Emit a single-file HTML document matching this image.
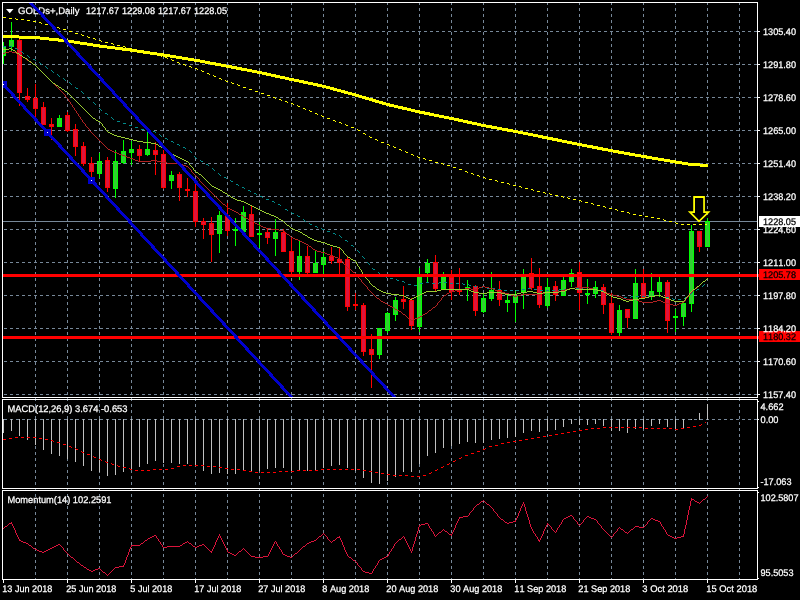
<!DOCTYPE html>
<html lang="en"><head><meta charset="utf-8"><title>GOLDs+, Daily</title>
<style>
html,body{margin:0;padding:0;background:#000;}
body{width:800px;height:600px;overflow:hidden;}
svg{display:block;}
text{font-family:"Liberation Sans",sans-serif;font-size:9.6px;fill:#fff;font-kerning:none;stroke:#fff;stroke-width:0.25px;text-rendering:geometricPrecision;}
.k{fill:#000;stroke:#000;}
.g{stroke:#778899;stroke-width:1;stroke-dasharray:3 3;fill:none;}
.b{stroke:#fff;stroke-width:1;fill:none;}
.ln{fill:none;stroke-width:1;stroke-linejoin:round;}
</style></head><body>
<svg width="800" height="600" viewBox="0 0 800 600">
<rect x="0" y="0" width="800" height="600" fill="#000"/>
<defs>
<clipPath id="cm"><rect x="3" y="3" width="754" height="394"/></clipPath>
<clipPath id="c1"><rect x="3" y="400" width="754" height="88"/></clipPath>
<clipPath id="c2"><rect x="3" y="491" width="754" height="88"/></clipPath>
</defs>
<g clip-path="url(#cm)" shape-rendering="crispEdges">
<path class="g" d="M35.5,2V398M67.5,2V398M99.5,2V398M131.5,2V398M163.5,2V398M195.5,2V398M227.5,2V398M259.5,2V398M291.5,2V398M323.5,2V398M355.5,2V398M387.5,2V398M419.5,2V398M451.5,2V398M483.5,2V398M515.5,2V398M547.5,2V398M579.5,2V398M611.5,2V398M643.5,2V398M675.5,2V398M707.5,2V398M739.5,2V398M-2,31.5H758M-2,64.5H758M-2,97.5H758M-2,130.5H758M-2,163.5H758M-2,196.5H758M-2,229.5H758M-2,262.5H758M-2,295.5H758M-2,328.5H758M-2,361.5H758M-2,394.5H758"/>
<path d="M3,221.5H757" stroke="#778899" stroke-width="1" fill="none"/>
<path d="M6,9H13.5L9.75,13.2Z" fill="#fff" shape-rendering="auto"/>
<text x="18" y="14" textLength="61.5" lengthAdjust="spacingAndGlyphs">GOLDs+,Daily</text>
<text x="86" y="14" textLength="33" lengthAdjust="spacingAndGlyphs">1217.67</text>
<text x="122" y="14" textLength="33" lengthAdjust="spacingAndGlyphs">1229.08</text>
<text x="158" y="14" textLength="33" lengthAdjust="spacingAndGlyphs">1217.67</text>
<text x="194" y="14" textLength="33" lengthAdjust="spacingAndGlyphs">1228.05</text>
<path d="M3.5,42V64M11.5,22V51M59.5,115V127M99.5,153V178M115.5,150V198M123.5,140V164M131.5,141V165M147.5,132V156M171.5,171V189M219.5,211V253M235.5,218V246M243.5,206V232M259.5,222V248M275.5,219V256M299.5,241V280M315.5,251V273M323.5,251V274M379.5,328V359M387.5,312V333M395.5,297V321M419.5,268V332M427.5,259V282M443.5,272V289M467.5,280V301M483.5,294V313M491.5,272V301M507.5,294V312M515.5,291V322M523.5,269V309M547.5,278V308M563.5,277V296M571.5,269V287M587.5,279V304M595.5,281V298M619.5,305V336M635.5,269V319M651.5,273V300M659.5,277V297M675.5,309V332M683.5,303V326M691.5,225V312M707.5,218V247" stroke="#00ff00" stroke-width="1" fill="none"/>
<path d="M19.5,38V106M27.5,88V102M35.5,84V117M43.5,102V125M51.5,118V140M67.5,112V132M75.5,124V156M83.5,142V166M91.5,157V177M107.5,157V192M139.5,145V161M155.5,142V175M163.5,150V189M179.5,172V201M187.5,178V197M195.5,184V227M203.5,218V239M211.5,217V262M227.5,203V236M251.5,205V237M267.5,229V244M283.5,229V252M291.5,237V274M307.5,246V274M331.5,247V264M339.5,248V274M347.5,256V311M355.5,293V310M363.5,303V356M371.5,334V388M403.5,286V309M411.5,298V330M435.5,255V291M451.5,270V300M459.5,268V295M475.5,285V316M499.5,281V306M531.5,258V290M539.5,268V308M555.5,281V301M579.5,262V310M603.5,284V314M611.5,293V335M627.5,309V328M643.5,269V298M667.5,280V333M699.5,231V252" stroke="#ff0000" stroke-width="1" fill="none"/>
<path d="M1,46h5v10h-5zM9,40h5v7h-5zM57,118h5v9h-5zM97,161h5v13h-5zM113,161h5v28h-5zM121,151h5v12h-5zM129,149h5v4h-5zM145,149h5v6h-5zM169,175h5v6h-5zM217,215h5v19h-5zM233,229h5v2h-5zM241,212h5v20h-5zM257,233h5v2h-5zM273,232h5v7h-5zM297,256h5v16h-5zM313,263h5v10h-5zM321,257h5v8h-5zM377,328h5v27h-5zM385,313h5v18h-5zM393,300h5v15h-5zM417,276h5v51h-5zM425,263h5v10h-5zM441,277h5v12h-5zM465,287h5v2h-5zM481,298h5v14h-5zM489,290h5v9h-5zM505,300h5v3h-5zM513,296h5v7h-5zM521,276h5v16h-5zM545,287h5v19h-5zM561,280h5v16h-5zM569,273h5v9h-5zM585,293h5v2h-5zM593,287h5v7h-5zM617,310h5v23h-5zM633,283h5v36h-5zM649,291h5v6h-5zM657,282h5v10h-5zM673,316h5v2h-5zM681,303h5v14h-5zM689,231h5v73h-5zM705,221h5v26h-5z" fill="#00ff00"/>
<path d="M17,40h5v53h-5zM25,96h5v4h-5zM33,98h5v11h-5zM41,107h5v18h-5zM49,124h5v3h-5zM65,115h5v16h-5zM73,129h5v18h-5zM81,146h5v18h-5zM89,163h5v9h-5zM105,160h5v28h-5zM137,149h5v7h-5zM153,150h5v5h-5zM161,154h5v34h-5zM177,174h5v14h-5zM185,189h5v2h-5zM193,191h5v31h-5zM201,221h5v4h-5zM209,223h5v12h-5zM225,215h5v16h-5zM249,214h5v23h-5zM265,232h5v6h-5zM281,232h5v20h-5zM289,251h5v21h-5zM305,256h5v17h-5zM329,256h5v5h-5zM337,259h5v4h-5zM345,259h5v48h-5zM353,304h5v2h-5zM361,305h5v47h-5zM369,349h5v6h-5zM401,299h5v3h-5zM409,300h5v26h-5zM433,262h5v27h-5zM449,277h5v15h-5zM457,290h5v2h-5zM473,286h5v25h-5zM497,290h5v10h-5zM529,273h5v15h-5zM537,286h5v19h-5zM553,286h5v9h-5zM577,272h5v21h-5zM601,287h5v18h-5zM609,303h5v30h-5zM625,309h5v9h-5zM641,283h5v15h-5zM665,282h5v39h-5zM697,231h5v16h-5z" fill="#ff0000"/>
<path d="M2,47h3v8h-3zM10,41h3v5h-3zM58,119h3v7h-3zM98,162h3v11h-3zM114,162h3v26h-3zM122,152h3v10h-3zM130,150h3v2h-3zM146,150h3v4h-3zM170,176h3v4h-3zM218,216h3v17h-3zM242,213h3v18h-3zM274,233h3v5h-3zM298,257h3v14h-3zM314,264h3v8h-3zM322,258h3v6h-3zM378,329h3v25h-3zM386,314h3v16h-3zM394,301h3v13h-3zM418,277h3v49h-3zM426,264h3v8h-3zM442,278h3v10h-3zM482,299h3v12h-3zM490,291h3v7h-3zM506,301h3v1h-3zM514,297h3v5h-3zM522,277h3v14h-3zM546,288h3v17h-3zM562,281h3v14h-3zM570,274h3v7h-3zM594,288h3v5h-3zM618,311h3v21h-3zM634,284h3v34h-3zM650,292h3v4h-3zM658,283h3v8h-3zM682,304h3v12h-3zM690,232h3v71h-3zM706,222h3v24h-3z" fill="#32cd32"/>
<path d="M18,41h3v51h-3zM26,97h3v2h-3zM34,99h3v9h-3zM42,108h3v16h-3zM50,125h3v1h-3zM66,116h3v14h-3zM74,130h3v16h-3zM82,147h3v16h-3zM90,164h3v7h-3zM106,161h3v26h-3zM138,150h3v5h-3zM154,151h3v3h-3zM162,155h3v32h-3zM178,175h3v12h-3zM194,192h3v29h-3zM202,222h3v2h-3zM210,224h3v10h-3zM226,216h3v14h-3zM250,215h3v21h-3zM266,233h3v4h-3zM282,233h3v18h-3zM290,252h3v19h-3zM306,257h3v15h-3zM330,257h3v3h-3zM338,260h3v2h-3zM346,260h3v46h-3zM362,306h3v45h-3zM370,350h3v4h-3zM402,300h3v1h-3zM410,301h3v24h-3zM434,263h3v25h-3zM450,278h3v13h-3zM474,287h3v23h-3zM498,291h3v8h-3zM530,274h3v13h-3zM538,287h3v17h-3zM554,287h3v7h-3zM578,273h3v19h-3zM602,288h3v16h-3zM610,304h3v28h-3zM626,310h3v7h-3zM642,284h3v13h-3zM666,283h3v37h-3zM698,232h3v14h-3z" fill="#dc143c"/>
<path d="M3,46h3v1h-3zM9,46h3v1h-3zM15,48h2v1h-2zM17,49h1v1h-1zM21,51h1v1h-1zM22,52h1v1h-1zM23,53h1v1h-1zM27,55h1v1h-1zM28,56h1v1h-1zM29,57h1v1h-1zM33,59h2v1h-2zM35,60h1v1h-1zM39,62h1v1h-1zM40,63h1v1h-1zM41,64h1v1h-1zM45,66h1v1h-1zM46,67h1v1h-1zM47,68h1v1h-1zM51,70h1v1h-1zM52,71h1v1h-1zM53,72h1v1h-1zM57,74h1v1h-1zM58,75h1v1h-1zM59,76h1v1h-1zM63,78h1v1h-1zM64,79h1v1h-1zM65,80h1v1h-1zM69,82h1v1h-1zM70,83h1v1h-1zM71,84h1v1h-1zM75,87h1v1h-1zM76,88h2v1h-2zM81,91h1v1h-1zM82,92h1v1h-1zM83,93h1v1h-1zM87,97h1v1h-1zM88,98h1v1h-1zM89,99h1v1h-1zM93,102h1v1h-1zM94,103h1v1h-1zM95,104h1v1h-1zM99,108h1v1h-1zM100,109h1v1h-1zM101,110h1v1h-1zM105,113h2v1h-2zM107,114h1v1h-1zM111,117h1v1h-1zM112,118h1v1h-1zM113,119h1v1h-1zM117,121h3v1h-3zM123,123h3v1h-3zM129,125h3v1h-3zM135,127h3v1h-3zM141,129h3v1h-3zM147,130h3v1h-3zM153,131h2v1h-2zM155,132h1v1h-1zM159,134h1v1h-1zM160,135h1v1h-1zM161,136h1v1h-1zM165,138h2v1h-2zM167,139h1v1h-1zM171,141h2v1h-2zM173,142h1v1h-1zM177,144h2v1h-2zM179,145h1v1h-1zM183,147h2v1h-2zM185,148h1v1h-1zM189,150h1v1h-1zM190,151h1v1h-1zM191,152h1v1h-1zM194,156h1v1h-1zM195,157h1v1h-1zM196,158h1v1h-1zM200,160h1v1h-1zM201,161h2v1h-2zM206,164h2v1h-2zM208,165h1v1h-1zM212,168h1v1h-1zM213,169h1v1h-1zM214,170h1v1h-1zM218,173h1v1h-1zM219,174h1v1h-1zM220,175h1v1h-1zM224,177h2v1h-2zM226,178h1v1h-1zM230,180h1v1h-1zM231,181h2v1h-2zM236,184h2v1h-2zM238,185h1v1h-1zM242,187h2v1h-2zM244,188h1v1h-1zM248,190h2v1h-2zM250,191h1v1h-1zM254,193h2v1h-2zM256,194h1v1h-1zM260,196h2v1h-2zM262,197h1v1h-1zM266,199h3v1h-3zM272,201h2v1h-2zM274,202h1v1h-1zM278,204h2v1h-2zM280,205h1v1h-1zM285,209h2v1h-2zM287,210h1v1h-1zM291,212h1v1h-1zM292,213h2v1h-2zM297,215h1v1h-1zM298,216h2v1h-2zM303,219h1v1h-1zM304,220h1v1h-1zM305,221h1v1h-1zM309,223h1v1h-1zM310,224h2v1h-2zM315,226h2v1h-2zM317,227h1v1h-1zM321,228h1v1h-1zM322,229h2v1h-2zM327,231h3v1h-3zM333,233h2v1h-2zM335,234h1v1h-1zM339,235h1v1h-1zM340,236h1v1h-1zM341,237h1v1h-1zM345,240h2v1h-2zM347,241h1v1h-1zM351,245h2v1h-2zM353,246h1v1h-1zM357,250h1v1h-1zM358,251h1v1h-1zM359,252h1v1h-1zM362,256h1v1h-1zM363,257h1v1h-1zM364,258h1v1h-1zM367,262h1v1h-1zM368,263h1v1h-1zM369,264h1v1h-1zM372,268h1v1h-1zM373,269h2v1h-2zM378,272h1v1h-1zM379,273h1v1h-1zM380,274h1v1h-1zM384,276h2v1h-2zM386,277h1v1h-1zM390,278h3v1h-3zM396,279h1v1h-1zM397,280h2v1h-2zM402,281h2v1h-2zM404,282h1v1h-1zM426,282h3v1h-3zM439,282h2v1h-2zM444,282h3v1h-3zM420,283h3v1h-3zM432,283h3v1h-3zM438,283h1v1h-1zM450,283h3v1h-3zM456,283h3v1h-3zM462,283h1v1h-1zM408,284h3v1h-3zM463,284h2v1h-2zM468,284h1v1h-1zM704,284h1v1h-1zM414,285h3v1h-3zM469,285h2v1h-2zM703,285h1v1h-1zM474,286h3v1h-3zM702,286h1v1h-1zM480,287h3v1h-3zM486,287h1v1h-1zM487,288h2v1h-2zM492,288h3v1h-3zM528,288h3v1h-3zM570,288h3v1h-3zM576,288h3v1h-3zM582,288h1v1h-1zM498,289h3v1h-3zM522,289h3v1h-3zM534,289h3v1h-3zM559,289h2v1h-2zM564,289h3v1h-3zM583,289h2v1h-2zM588,289h3v1h-3zM594,289h3v1h-3zM697,289h2v1h-2zM504,290h3v1h-3zM510,290h3v1h-3zM516,290h3v1h-3zM540,290h3v1h-3zM546,290h3v1h-3zM552,290h3v1h-3zM558,290h1v1h-1zM600,290h3v1h-3zM696,290h1v1h-1zM606,292h1v1h-1zM692,292h1v1h-1zM607,293h2v1h-2zM691,293h1v1h-1zM690,294h1v1h-1zM612,295h3v1h-3zM655,295h2v1h-2zM660,295h1v1h-1zM618,296h3v1h-3zM631,296h2v1h-2zM636,296h3v1h-3zM642,296h3v1h-3zM648,296h3v1h-3zM654,296h1v1h-1zM661,296h2v1h-2zM624,297h3v1h-3zM630,297h1v1h-1zM666,297h3v1h-3zM685,297h2v1h-2zM672,298h1v1h-1zM684,298h1v1h-1zM673,299h2v1h-2zM678,299h3v1h-3z" fill="#008b8b"/>
<path d="M9,51h3v1h-3zM5,52h4v1h-4zM12,52h4v1h-4zM3,53h2v1h-2zM16,53h2v1h-2zM18,54h2v1h-2zM20,55h2v1h-2zM22,56h1v1h-1zM23,57h2v1h-2zM25,58h1v1h-1zM26,59h1v1h-1zM27,60h2v1h-2zM29,61h1v1h-1zM30,62h2v1h-2zM32,63h1v1h-1zM33,64h2v1h-2zM35,65h1v1h-1zM36,66h1v1h-1zM37,67h1v1h-1zM38,68h1v1h-1zM39,69h1v1h-1zM40,70h1v1h-1zM41,71h1v1h-1zM42,72h1v1h-1zM43,73h1v1h-1zM44,74h1v1h-1zM45,75h1v1h-1zM46,76h1v1h-1zM47,77h1v1h-1zM48,78h1v1h-1zM49,79h1v1h-1zM50,80h1v1h-1zM51,81h1v1h-1zM52,82h1v1h-1zM53,83h1v1h-1zM54,84h1v1h-1zM55,85h1v1h-1zM56,86h1v1h-1zM57,87h1v1h-1zM58,88h1v1h-1zM59,89h1v1h-1zM60,90h1v1h-1zM61,91h1v1h-1zM62,92h1v1h-1zM63,93h1v1h-1zM64,94h1v1h-1zM65,95h1v1h-1zM65,96h1v1h-1zM66,97h1v1h-1zM67,98h1v1h-1zM68,99h1v1h-1zM68,100h1v1h-1zM69,101h1v1h-1zM70,102h1v1h-1zM70,103h1v1h-1zM71,104h1v1h-1zM72,105h1v1h-1zM72,106h1v1h-1zM73,107h1v1h-1zM74,108h1v1h-1zM74,109h1v1h-1zM75,110h1v1h-1zM76,111h1v1h-1zM76,112h1v1h-1zM77,113h1v1h-1zM78,114h1v1h-1zM78,115h1v1h-1zM79,116h1v1h-1zM80,117h1v1h-1zM80,118h1v1h-1zM81,119h1v1h-1zM82,120h1v1h-1zM82,121h1v1h-1zM83,122h1v1h-1zM84,123h1v1h-1zM85,124h1v1h-1zM85,125h1v1h-1zM86,126h1v1h-1zM87,127h1v1h-1zM88,128h1v1h-1zM89,129h1v1h-1zM89,130h1v1h-1zM90,131h1v1h-1zM91,132h1v1h-1zM92,133h1v1h-1zM93,134h1v1h-1zM94,135h1v1h-1zM95,136h1v1h-1zM96,137h1v1h-1zM97,138h1v1h-1zM98,139h1v1h-1zM99,140h1v1h-1zM100,141h1v1h-1zM101,142h1v1h-1zM102,143h1v1h-1zM103,144h1v1h-1zM104,145h1v1h-1zM105,146h1v1h-1zM106,147h1v1h-1zM107,148h1v1h-1zM108,149h2v1h-2zM110,150h2v1h-2zM112,151h2v1h-2zM114,152h3v1h-3zM117,153h2v1h-2zM119,154h3v1h-3zM122,155h3v1h-3zM125,156h2v1h-2zM127,157h3v1h-3zM130,158h3v1h-3zM133,159h2v1h-2zM135,160h3v1h-3zM151,160h6v1h-6zM138,161h13v1h-13zM157,161h4v1h-4zM161,162h6v1h-6zM167,163h14v1h-14zM181,164h2v1h-2zM183,165h3v1h-3zM186,166h2v1h-2zM188,167h1v1h-1zM189,168h1v1h-1zM190,169h1v1h-1zM191,170h1v1h-1zM191,171h1v1h-1zM192,172h1v1h-1zM193,173h1v1h-1zM194,174h1v1h-1zM195,175h1v1h-1zM196,176h1v1h-1zM197,177h1v1h-1zM198,178h1v1h-1zM199,179h1v1h-1zM199,180h1v1h-1zM200,181h1v1h-1zM201,182h1v1h-1zM202,183h1v1h-1zM203,184h1v1h-1zM204,185h1v1h-1zM205,186h1v1h-1zM206,187h1v1h-1zM207,188h1v1h-1zM208,189h1v1h-1zM209,190h1v1h-1zM210,191h1v1h-1zM211,192h1v1h-1zM212,193h1v1h-1zM213,194h1v1h-1zM214,195h1v1h-1zM215,196h1v1h-1zM216,197h1v1h-1zM217,198h1v1h-1zM218,199h1v1h-1zM219,200h1v1h-1zM220,201h1v1h-1zM221,202h1v1h-1zM222,203h1v1h-1zM223,204h2v1h-2zM225,205h1v1h-1zM226,206h1v1h-1zM227,207h1v1h-1zM228,208h2v1h-2zM230,209h2v1h-2zM232,210h2v1h-2zM234,211h2v1h-2zM236,212h2v1h-2zM238,213h1v1h-1zM239,214h2v1h-2zM241,215h2v1h-2zM243,216h1v1h-1zM244,217h2v1h-2zM246,218h2v1h-2zM248,219h2v1h-2zM250,220h2v1h-2zM252,221h2v1h-2zM254,222h1v1h-1zM255,223h2v1h-2zM257,224h2v1h-2zM259,225h2v1h-2zM261,226h2v1h-2zM263,227h3v1h-3zM266,228h5v1h-5zM271,229h8v1h-8zM279,230h5v1h-5zM284,231h1v1h-1zM285,232h1v1h-1zM286,233h1v1h-1zM287,234h2v1h-2zM289,235h1v1h-1zM290,236h1v1h-1zM291,237h2v1h-2zM293,238h2v1h-2zM295,239h3v1h-3zM298,240h2v1h-2zM300,241h2v1h-2zM302,242h2v1h-2zM304,243h2v1h-2zM306,244h2v1h-2zM308,245h1v1h-1zM309,246h2v1h-2zM311,247h1v1h-1zM312,248h1v1h-1zM313,249h2v1h-2zM315,250h2v1h-2zM317,251h4v1h-4zM321,252h4v1h-4zM325,253h2v1h-2zM327,254h3v1h-3zM330,255h3v1h-3zM333,256h2v1h-2zM335,257h3v1h-3zM338,258h2v1h-2zM340,259h1v1h-1zM341,260h1v1h-1zM342,261h1v1h-1zM343,262h1v1h-1zM343,263h1v1h-1zM344,264h1v1h-1zM345,265h1v1h-1zM346,266h1v1h-1zM347,267h1v1h-1zM348,268h1v1h-1zM349,269h2v1h-2zM351,270h1v1h-1zM352,271h1v1h-1zM353,272h2v1h-2zM355,273h1v1h-1zM356,274h1v1h-1zM357,275h1v1h-1zM357,276h1v1h-1zM358,277h1v1h-1zM359,278h1v1h-1zM707,278h1v1h-1zM360,279h1v1h-1zM706,279h1v1h-1zM361,280h1v1h-1zM705,280h1v1h-1zM361,281h1v1h-1zM703,281h2v1h-2zM362,282h1v1h-1zM702,282h1v1h-1zM363,283h1v1h-1zM701,283h1v1h-1zM364,284h1v1h-1zM700,284h1v1h-1zM365,285h1v1h-1zM699,285h1v1h-1zM366,286h1v1h-1zM482,286h3v1h-3zM698,286h1v1h-1zM367,287h1v1h-1zM479,287h3v1h-3zM485,287h4v1h-4zM575,287h14v1h-14zM697,287h1v1h-1zM367,288h1v1h-1zM465,288h6v1h-6zM477,288h2v1h-2zM489,288h4v1h-4zM569,288h6v1h-6zM589,288h4v1h-4zM695,288h2v1h-2zM368,289h1v1h-1zM461,289h4v1h-4zM471,289h6v1h-6zM493,289h2v1h-2zM565,289h4v1h-4zM593,289h4v1h-4zM694,289h1v1h-1zM369,290h1v1h-1zM455,290h6v1h-6zM495,290h3v1h-3zM561,290h4v1h-4zM597,290h4v1h-4zM693,290h1v1h-1zM370,291h1v1h-1zM451,291h4v1h-4zM498,291h3v1h-3zM557,291h4v1h-4zM601,291h4v1h-4zM692,291h1v1h-1zM371,292h1v1h-1zM449,292h2v1h-2zM501,292h4v1h-4zM545,292h12v1h-12zM605,292h2v1h-2zM691,292h1v1h-1zM372,293h1v1h-1zM447,293h2v1h-2zM505,293h4v1h-4zM541,293h4v1h-4zM607,293h3v1h-3zM690,293h1v1h-1zM373,294h1v1h-1zM446,294h1v1h-1zM509,294h2v1h-2zM521,294h20v1h-20zM610,294h3v1h-3zM689,294h1v1h-1zM374,295h1v1h-1zM444,295h2v1h-2zM511,295h3v1h-3zM517,295h4v1h-4zM613,295h4v1h-4zM689,295h1v1h-1zM375,296h1v1h-1zM443,296h1v1h-1zM514,296h3v1h-3zM617,296h4v1h-4zM688,296h1v1h-1zM376,297h1v1h-1zM442,297h1v1h-1zM621,297h2v1h-2zM687,297h1v1h-1zM377,298h2v1h-2zM441,298h1v1h-1zM623,298h3v1h-3zM686,298h1v1h-1zM379,299h1v1h-1zM441,299h1v1h-1zM626,299h11v1h-11zM685,299h1v1h-1zM380,300h1v1h-1zM440,300h1v1h-1zM637,300h2v1h-2zM657,300h4v1h-4zM685,300h1v1h-1zM381,301h2v1h-2zM439,301h1v1h-1zM639,301h3v1h-3zM653,301h4v1h-4zM661,301h2v1h-2zM684,301h1v1h-1zM383,302h2v1h-2zM438,302h1v1h-1zM642,302h11v1h-11zM663,302h3v1h-3zM682,302h2v1h-2zM385,303h2v1h-2zM437,303h1v1h-1zM666,303h3v1h-3zM679,303h3v1h-3zM387,304h1v1h-1zM437,304h1v1h-1zM669,304h4v1h-4zM677,304h2v1h-2zM388,305h2v1h-2zM436,305h1v1h-1zM673,305h4v1h-4zM390,306h2v1h-2zM435,306h1v1h-1zM392,307h2v1h-2zM433,307h2v1h-2zM394,308h1v1h-1zM432,308h1v1h-1zM395,309h2v1h-2zM431,309h1v1h-1zM397,310h2v1h-2zM429,310h2v1h-2zM399,311h2v1h-2zM428,311h1v1h-1zM401,312h1v1h-1zM427,312h1v1h-1zM402,313h1v1h-1zM425,313h2v1h-2zM403,314h2v1h-2zM423,314h2v1h-2zM405,315h1v1h-1zM422,315h1v1h-1zM406,316h1v1h-1zM420,316h2v1h-2zM407,317h1v1h-1zM418,317h2v1h-2zM408,318h2v1h-2zM415,318h3v1h-3zM410,319h1v1h-1zM413,319h2v1h-2zM411,320h2v1h-2z" fill="#b22222"/>
<path d="M9,48h2v1h-2zM3,49h6v1h-6zM11,49h2v1h-2zM13,50h2v1h-2zM15,51h1v1h-1zM16,52h1v1h-1zM17,53h2v1h-2zM19,54h1v1h-1zM20,55h2v1h-2zM22,56h1v1h-1zM23,57h2v1h-2zM25,58h2v1h-2zM27,59h1v1h-1zM28,60h1v1h-1zM29,61h2v1h-2zM31,62h1v1h-1zM32,63h1v1h-1zM33,64h2v1h-2zM35,65h1v1h-1zM36,66h1v1h-1zM37,67h1v1h-1zM38,68h1v1h-1zM39,69h1v1h-1zM40,70h1v1h-1zM41,71h1v1h-1zM42,72h1v1h-1zM43,73h1v1h-1zM44,74h1v1h-1zM45,75h1v1h-1zM46,76h1v1h-1zM47,77h1v1h-1zM48,78h1v1h-1zM49,79h1v1h-1zM50,80h1v1h-1zM51,81h1v1h-1zM52,82h1v1h-1zM53,83h2v1h-2zM55,84h1v1h-1zM56,85h2v1h-2zM58,86h1v1h-1zM59,87h2v1h-2zM61,88h1v1h-1zM62,89h2v1h-2zM64,90h1v1h-1zM65,91h2v1h-2zM67,92h1v1h-1zM68,93h1v1h-1zM69,94h1v1h-1zM70,95h1v1h-1zM71,96h1v1h-1zM72,97h1v1h-1zM73,98h1v1h-1zM74,99h1v1h-1zM75,100h1v1h-1zM76,101h1v1h-1zM77,102h1v1h-1zM78,103h1v1h-1zM79,104h1v1h-1zM80,105h1v1h-1zM81,106h1v1h-1zM82,107h1v1h-1zM83,108h1v1h-1zM84,109h1v1h-1zM85,110h1v1h-1zM86,111h1v1h-1zM87,112h1v1h-1zM88,113h1v1h-1zM89,114h1v1h-1zM90,115h1v1h-1zM91,116h1v1h-1zM92,117h1v1h-1zM93,118h2v1h-2zM95,119h1v1h-1zM96,120h2v1h-2zM98,121h2v1h-2zM100,122h1v1h-1zM101,123h1v1h-1zM102,124h1v1h-1zM102,125h1v1h-1zM103,126h1v1h-1zM104,127h1v1h-1zM105,128h1v1h-1zM105,129h1v1h-1zM106,130h1v1h-1zM107,131h1v1h-1zM108,132h2v1h-2zM110,133h2v1h-2zM112,134h2v1h-2zM114,135h3v1h-3zM117,136h4v1h-4zM121,137h4v1h-4zM125,138h4v1h-4zM129,139h4v1h-4zM133,140h4v1h-4zM137,141h6v1h-6zM143,142h8v1h-8zM151,143h5v1h-5zM156,144h2v1h-2zM158,145h1v1h-1zM159,146h2v1h-2zM161,147h2v1h-2zM163,148h1v1h-1zM164,149h2v1h-2zM166,150h1v1h-1zM167,151h2v1h-2zM169,152h2v1h-2zM171,153h1v1h-1zM172,154h2v1h-2zM174,155h2v1h-2zM176,156h2v1h-2zM178,157h2v1h-2zM180,158h2v1h-2zM182,159h2v1h-2zM184,160h2v1h-2zM186,161h2v1h-2zM188,162h1v1h-1zM189,163h1v1h-1zM189,164h1v1h-1zM190,165h1v1h-1zM191,166h1v1h-1zM192,167h1v1h-1zM193,168h1v1h-1zM193,169h1v1h-1zM194,170h1v1h-1zM195,171h1v1h-1zM196,172h2v1h-2zM198,173h1v1h-1zM199,174h2v1h-2zM201,175h1v1h-1zM202,176h1v1h-1zM203,177h1v1h-1zM204,178h1v1h-1zM205,179h1v1h-1zM206,180h1v1h-1zM207,181h1v1h-1zM208,182h1v1h-1zM209,183h1v1h-1zM210,184h1v1h-1zM211,185h1v1h-1zM212,186h2v1h-2zM214,187h2v1h-2zM216,188h2v1h-2zM218,189h2v1h-2zM220,190h2v1h-2zM222,191h1v1h-1zM223,192h2v1h-2zM225,193h2v1h-2zM227,194h1v1h-1zM228,195h2v1h-2zM230,196h1v1h-1zM231,197h2v1h-2zM233,198h2v1h-2zM235,199h2v1h-2zM237,200h4v1h-4zM241,201h3v1h-3zM244,202h2v1h-2zM246,203h2v1h-2zM248,204h2v1h-2zM250,205h2v1h-2zM252,206h2v1h-2zM254,207h2v1h-2zM256,208h2v1h-2zM258,209h2v1h-2zM260,210h2v1h-2zM262,211h2v1h-2zM264,212h2v1h-2zM266,213h3v1h-3zM269,214h2v1h-2zM271,215h3v1h-3zM274,216h2v1h-2zM276,217h2v1h-2zM278,218h1v1h-1zM279,219h2v1h-2zM281,220h2v1h-2zM283,221h1v1h-1zM284,222h1v1h-1zM285,223h1v1h-1zM286,224h1v1h-1zM287,225h2v1h-2zM289,226h1v1h-1zM290,227h1v1h-1zM291,228h2v1h-2zM293,229h2v1h-2zM295,230h3v1h-3zM298,231h2v1h-2zM300,232h2v1h-2zM302,233h1v1h-1zM303,234h2v1h-2zM305,235h2v1h-2zM307,236h1v1h-1zM308,237h2v1h-2zM310,238h2v1h-2zM312,239h2v1h-2zM314,240h3v1h-3zM317,241h4v1h-4zM321,242h4v1h-4zM325,243h2v1h-2zM327,244h3v1h-3zM330,245h3v1h-3zM333,246h4v1h-4zM337,247h3v1h-3zM340,248h1v1h-1zM341,249h1v1h-1zM342,250h1v1h-1zM343,251h1v1h-1zM343,252h1v1h-1zM344,253h1v1h-1zM345,254h1v1h-1zM346,255h1v1h-1zM347,256h1v1h-1zM348,257h2v1h-2zM350,258h1v1h-1zM351,259h2v1h-2zM353,260h2v1h-2zM355,261h1v1h-1zM356,262h1v1h-1zM356,263h1v1h-1zM357,264h1v1h-1zM357,265h1v1h-1zM358,266h1v1h-1zM359,267h1v1h-1zM359,268h1v1h-1zM360,269h1v1h-1zM361,270h1v1h-1zM361,271h1v1h-1zM362,272h1v1h-1zM362,273h1v1h-1zM363,274h1v1h-1zM364,275h1v1h-1zM365,276h1v1h-1zM365,277h1v1h-1zM366,278h1v1h-1zM707,278h1v1h-1zM367,279h1v1h-1zM706,279h1v1h-1zM368,280h1v1h-1zM705,280h1v1h-1zM369,281h1v1h-1zM703,281h2v1h-2zM369,282h1v1h-1zM702,282h1v1h-1zM370,283h1v1h-1zM701,283h1v1h-1zM371,284h1v1h-1zM700,284h1v1h-1zM372,285h1v1h-1zM699,285h1v1h-1zM373,286h2v1h-2zM697,286h2v1h-2zM375,287h1v1h-1zM696,287h1v1h-1zM376,288h1v1h-1zM570,288h5v1h-5zM695,288h1v1h-1zM377,289h2v1h-2zM441,289h28v1h-28zM567,289h3v1h-3zM575,289h22v1h-22zM693,289h2v1h-2zM379,290h2v1h-2zM437,290h4v1h-4zM469,290h2v1h-2zM565,290h2v1h-2zM597,290h4v1h-4zM692,290h1v1h-1zM381,291h2v1h-2zM426,291h11v1h-11zM471,291h3v1h-3zM527,291h6v1h-6zM559,291h6v1h-6zM601,291h3v1h-3zM691,291h1v1h-1zM383,292h3v1h-3zM424,292h2v1h-2zM474,292h5v1h-5zM487,292h14v1h-14zM521,292h6v1h-6zM533,292h4v1h-4zM543,292h16v1h-16zM604,292h2v1h-2zM690,292h1v1h-1zM386,293h5v1h-5zM422,293h2v1h-2zM479,293h8v1h-8zM501,293h4v1h-4zM517,293h4v1h-4zM537,293h6v1h-6zM606,293h1v1h-1zM689,293h1v1h-1zM391,294h8v1h-8zM420,294h2v1h-2zM505,294h12v1h-12zM607,294h2v1h-2zM689,294h1v1h-1zM399,295h5v1h-5zM418,295h2v1h-2zM609,295h2v1h-2zM655,295h6v1h-6zM688,295h1v1h-1zM404,296h2v1h-2zM416,296h2v1h-2zM611,296h2v1h-2zM649,296h6v1h-6zM661,296h2v1h-2zM687,296h1v1h-1zM406,297h2v1h-2zM414,297h2v1h-2zM613,297h4v1h-4zM645,297h4v1h-4zM663,297h3v1h-3zM686,297h1v1h-1zM408,298h2v1h-2zM412,298h2v1h-2zM617,298h4v1h-4zM639,298h6v1h-6zM666,298h3v1h-3zM685,298h1v1h-1zM410,299h2v1h-2zM621,299h2v1h-2zM633,299h6v1h-6zM669,299h2v1h-2zM685,299h1v1h-1zM623,300h3v1h-3zM629,300h4v1h-4zM671,300h3v1h-3zM684,300h1v1h-1zM626,301h3v1h-3zM674,301h10v1h-10z" fill="#9acd32"/>
<path d="M3,17h3v1h-3zM9,18h3v1h-3zM15,18h1v1h-1zM16,19h2v1h-2zM21,19h3v1h-3zM27,20h3v1h-3zM33,21h3v1h-3zM39,22h2v1h-2zM41,23h1v1h-1zM45,24h3v1h-3zM51,26h3v1h-3zM57,27h2v1h-2zM59,28h1v1h-1zM63,29h3v1h-3zM69,31h3v1h-3zM75,33h3v1h-3zM81,34h1v1h-1zM82,35h2v1h-2zM87,36h1v1h-1zM88,37h2v1h-2zM93,38h2v1h-2zM95,39h1v1h-1zM99,40h2v1h-2zM101,41h1v1h-1zM105,42h3v1h-3zM111,43h2v1h-2zM113,44h1v1h-1zM117,45h3v1h-3zM123,46h2v1h-2zM125,47h1v1h-1zM129,48h3v1h-3zM135,49h2v1h-2zM137,50h1v1h-1zM141,51h3v1h-3zM147,52h2v1h-2zM149,53h1v1h-1zM153,54h3v1h-3zM159,55h2v1h-2zM161,56h1v1h-1zM165,57h2v1h-2zM167,58h1v1h-1zM171,59h1v1h-1zM172,60h2v1h-2zM177,62h2v1h-2zM179,63h1v1h-1zM183,64h2v1h-2zM185,65h1v1h-1zM189,66h2v1h-2zM191,67h1v1h-1zM195,68h2v1h-2zM197,69h1v1h-1zM201,70h1v1h-1zM202,71h2v1h-2zM207,73h2v1h-2zM209,74h1v1h-1zM213,75h1v1h-1zM214,76h2v1h-2zM219,78h2v1h-2zM221,79h1v1h-1zM225,80h1v1h-1zM226,81h2v1h-2zM231,82h1v1h-1zM232,83h2v1h-2zM237,84h1v1h-1zM238,85h2v1h-2zM243,87h3v1h-3zM249,89h3v1h-3zM255,91h3v1h-3zM261,93h3v1h-3zM267,95h3v1h-3zM273,97h2v1h-2zM275,98h1v1h-1zM279,99h2v1h-2zM281,100h1v1h-1zM285,101h2v1h-2zM287,102h1v1h-1zM291,103h2v1h-2zM293,104h1v1h-1zM297,105h1v1h-1zM298,106h2v1h-2zM303,108h2v1h-2zM305,109h1v1h-1zM309,110h1v1h-1zM310,111h2v1h-2zM315,113h2v1h-2zM317,114h1v1h-1zM321,115h1v1h-1zM322,116h2v1h-2zM327,118h3v1h-3zM333,120h2v1h-2zM335,121h1v1h-1zM339,122h2v1h-2zM341,123h1v1h-1zM345,124h1v1h-1zM346,125h2v1h-2zM351,127h3v1h-3zM357,129h1v1h-1zM358,130h2v1h-2zM363,133h2v1h-2zM365,134h1v1h-1zM369,136h1v1h-1zM370,137h2v1h-2zM375,139h2v1h-2zM377,140h1v1h-1zM381,142h3v1h-3zM387,144h2v1h-2zM389,145h1v1h-1zM393,146h1v1h-1zM394,147h2v1h-2zM399,149h2v1h-2zM401,150h1v1h-1zM405,151h1v1h-1zM406,152h2v1h-2zM411,154h2v1h-2zM413,155h1v1h-1zM417,156h1v1h-1zM418,157h2v1h-2zM423,158h2v1h-2zM425,159h1v1h-1zM429,160h3v1h-3zM435,162h3v1h-3zM441,163h2v1h-2zM443,164h1v1h-1zM447,165h3v1h-3zM453,167h3v1h-3zM459,169h3v1h-3zM465,171h2v1h-2zM467,172h1v1h-1zM471,173h2v1h-2zM473,174h1v1h-1zM477,175h2v1h-2zM479,176h1v1h-1zM483,177h2v1h-2zM485,178h1v1h-1zM489,179h3v1h-3zM495,180h2v1h-2zM497,181h1v1h-1zM501,182h3v1h-3zM507,183h2v1h-2zM509,184h1v1h-1zM513,185h3v1h-3zM519,186h2v1h-2zM521,187h1v1h-1zM525,188h3v1h-3zM531,189h2v1h-2zM533,190h1v1h-1zM537,191h3v1h-3zM543,192h2v1h-2zM545,193h1v1h-1zM549,193h1v1h-1zM550,194h2v1h-2zM555,195h3v1h-3zM561,196h2v1h-2zM563,197h1v1h-1zM567,197h1v1h-1zM568,198h2v1h-2zM573,199h3v1h-3zM579,200h2v1h-2zM581,201h1v1h-1zM585,202h3v1h-3zM591,203h2v1h-2zM593,204h1v1h-1zM597,205h3v1h-3zM603,206h2v1h-2zM605,207h1v1h-1zM609,208h3v1h-3zM615,209h2v1h-2zM617,210h1v1h-1zM621,211h3v1h-3zM627,212h2v1h-2zM629,213h1v1h-1zM633,214h3v1h-3zM639,215h3v1h-3zM645,216h3v1h-3zM651,217h3v1h-3zM657,218h3v1h-3zM663,219h1v1h-1zM664,220h2v1h-2zM669,221h3v1h-3zM675,222h1v1h-1zM676,223h2v1h-2zM681,224h3v1h-3zM687,224h3v1h-3zM693,224h3v1h-3zM699,224h3v1h-3zM705,224h2v1h-2z" fill="#ffff00"/>
<polyline points="3,36.5 35.5,37.5 67.5,41 99.5,46 131.5,50.2 163.5,55 195.5,60.2 227.5,66.25 259.5,72.5 291.5,79.5 323.5,86.25 355.5,95 387.5,104.5 419.5,112 451.5,118.5 483.5,125.5 515.5,131.5 547.5,138 579.5,144.5 611.5,150.75 643.5,156.5 675.5,162 691.5,164.5 708,165.5" stroke="#ffff00" style="stroke-width:3;fill:none;stroke-linejoin:round"/>
<rect x="3" y="274" width="755" height="3" fill="#ff0000"/>
<rect x="3" y="336" width="755" height="3" fill="#ff0000"/>
<path d="M-10,70.06L300,406.50M20,-8.92L410,414.08" stroke="#0000cd" stroke-width="2.94" fill="none"/>
<rect x="0" y="81" width="7" height="7" fill="#0000cd"/><rect x="3" y="84" width="1" height="1" fill="#fff"/>
<rect x="44" y="129" width="7" height="7" fill="#0000cd"/><rect x="47" y="132" width="1" height="1" fill="#fff"/>
<rect x="88" y="177" width="7" height="7" fill="#0000cd"/><rect x="91" y="180" width="1" height="1" fill="#fff"/>
</g>
<path fill-rule="evenodd" fill="#ffff00" d="M693.2,196.1H704.9V211.2H710.6L699,222.6L687.8,211.2H693.2ZM695,197.9V213H692L699,220.2L706.4,213H703.2V197.9Z"/>
<g clip-path="url(#c1)" shape-rendering="crispEdges">
<path class="g" d="M35.5,398V490M67.5,398V490M99.5,398V490M131.5,398V490M163.5,398V490M195.5,398V490M227.5,398V490M259.5,398V490M291.5,398V490M323.5,398V490M355.5,398V490M387.5,398V490M419.5,398V490M451.5,398V490M483.5,398V490M515.5,398V490M547.5,398V490M579.5,398V490M611.5,398V490M643.5,398V490M675.5,398V490M707.5,398V490M739.5,398V490M-2,419.5H758"/>
<text x="7.5" y="412" textLength="120" lengthAdjust="spacingAndGlyphs">MACD(12,26,9) 3.674 -0.653</text>
<path d="M3.5,419V433M11.5,419V431M19.5,419V436M27.5,419V440M35.5,419V445M43.5,419V450M51.5,419V454M59.5,419V456M67.5,419V459M75.5,419V462M83.5,419V466M91.5,419V471M99.5,419V472M107.5,419V476M115.5,419V475M123.5,419V472M131.5,419V470M139.5,419V467M147.5,419V464M155.5,419V461M163.5,419V463M171.5,419V463M179.5,419V464M187.5,419V464M195.5,419V466M203.5,419V471M211.5,419V474M219.5,419V473M227.5,419V474M235.5,419V474M243.5,419V470M251.5,419V472M259.5,419V471M267.5,419V469M275.5,419V468M283.5,419V468M291.5,419V472M299.5,419V470M307.5,419V471M315.5,419V470M323.5,419V468M331.5,419V466M339.5,419V465M347.5,419V468M355.5,419V471M363.5,419V478M371.5,419V483M379.5,419V484M387.5,419V481M395.5,419V477M403.5,419V472M411.5,419V472M419.5,419V464M427.5,419V456M435.5,419V453M443.5,419V448M451.5,419V446M459.5,419V444M467.5,419V442M475.5,419V443M483.5,419V443M491.5,419V440M499.5,419V439M507.5,419V438M515.5,419V437M523.5,419V433M531.5,419V431M539.5,419V432M547.5,419V431M555.5,419V430M563.5,419V427M571.5,419V424M579.5,419V425M587.5,419V425M595.5,419V424M603.5,419V426M611.5,419V431M619.5,419V431M627.5,419V433M635.5,419V429M643.5,419V429M651.5,419V426M659.5,419V424M667.5,419V427M675.5,419V430M683.5,419V428M691.5,419V420M699.5,413V420M707.5,404V420" stroke="#c0c0c0" stroke-width="1" fill="none"/>
<path d="M705,422h1v1h-1zM701,424h1v1h-1zM699,425h2v1h-2zM693,426h3v1h-3zM603,427h3v1h-3zM609,427h3v1h-3zM615,427h3v1h-3zM621,427h3v1h-3zM627,427h3v1h-3zM633,427h3v1h-3zM639,427h3v1h-3zM687,427h3v1h-3zM591,428h3v1h-3zM597,428h3v1h-3zM645,428h3v1h-3zM651,428h3v1h-3zM657,428h3v1h-3zM663,428h3v1h-3zM669,428h3v1h-3zM681,428h3v1h-3zM585,429h3v1h-3zM675,429h3v1h-3zM579,430h3v1h-3zM573,431h3v1h-3zM567,432h3v1h-3zM561,433h3v1h-3zM555,434h3v1h-3zM549,435h3v1h-3zM543,436h3v1h-3zM15,437h3v1h-3zM21,437h3v1h-3zM27,437h3v1h-3zM33,437h3v1h-3zM537,437h3v1h-3zM9,438h3v1h-3zM39,438h3v1h-3zM531,438h3v1h-3zM3,439h3v1h-3zM45,439h3v1h-3zM525,439h3v1h-3zM51,440h2v1h-2zM519,440h3v1h-3zM53,441h1v1h-1zM513,441h3v1h-3zM57,442h3v1h-3zM507,442h3v1h-3zM501,443h3v1h-3zM63,444h3v1h-3zM495,445h3v1h-3zM69,446h2v1h-2zM489,446h3v1h-3zM71,447h1v1h-1zM75,448h1v1h-1zM485,448h1v1h-1zM76,449h2v1h-2zM483,449h2v1h-2zM81,451h1v1h-1zM477,451h3v1h-3zM82,452h2v1h-2zM471,453h3v1h-3zM87,454h3v1h-3zM465,455h3v1h-3zM93,456h1v1h-1zM94,457h2v1h-2zM461,457h1v1h-1zM459,458h2v1h-2zM99,459h2v1h-2zM101,460h1v1h-1zM455,460h1v1h-1zM105,461h1v1h-1zM453,461h2v1h-2zM106,462h2v1h-2zM111,463h1v1h-1zM449,463h1v1h-1zM112,464h2v1h-2zM447,464h2v1h-2zM117,465h1v1h-1zM183,465h3v1h-3zM189,465h3v1h-3zM195,465h3v1h-3zM201,465h3v1h-3zM118,466h2v1h-2zM177,466h3v1h-3zM207,466h3v1h-3zM213,466h3v1h-3zM443,466h1v1h-1zM123,467h3v1h-3zM219,467h3v1h-3zM441,467h2v1h-2zM129,468h1v1h-1zM171,468h3v1h-3zM225,468h3v1h-3zM130,469h2v1h-2zM153,469h3v1h-3zM159,469h3v1h-3zM165,469h3v1h-3zM231,469h3v1h-3zM237,469h3v1h-3zM321,469h3v1h-3zM327,469h3v1h-3zM333,469h3v1h-3zM339,469h3v1h-3zM345,469h3v1h-3zM351,469h3v1h-3zM357,469h3v1h-3zM437,469h1v1h-1zM135,470h3v1h-3zM141,470h3v1h-3zM147,470h3v1h-3zM243,470h3v1h-3zM297,470h3v1h-3zM303,470h3v1h-3zM309,470h3v1h-3zM315,470h3v1h-3zM363,470h3v1h-3zM435,470h2v1h-2zM249,471h3v1h-3zM279,471h3v1h-3zM285,471h3v1h-3zM291,471h3v1h-3zM369,471h3v1h-3zM255,472h3v1h-3zM261,472h3v1h-3zM267,472h3v1h-3zM273,472h3v1h-3zM375,472h3v1h-3zM431,472h1v1h-1zM381,473h3v1h-3zM429,473h2v1h-2zM387,474h3v1h-3zM393,475h3v1h-3zM399,475h3v1h-3zM405,475h3v1h-3zM423,475h3v1h-3zM411,476h3v1h-3zM417,476h3v1h-3z" fill="#ff0000"/>
</g>
<g clip-path="url(#c2)" shape-rendering="crispEdges">
<path class="g" d="M35.5,488V580M67.5,488V580M99.5,488V580M131.5,488V580M163.5,488V580M195.5,488V580M227.5,488V580M259.5,488V580M291.5,488V580M323.5,488V580M355.5,488V580M387.5,488V580M419.5,488V580M451.5,488V580M483.5,488V580M515.5,488V580M547.5,488V580M579.5,488V580M611.5,488V580M643.5,488V580M675.5,488V580M707.5,488V580M739.5,488V580"/>
<text x="7.5" y="503" textLength="104" lengthAdjust="spacingAndGlyphs">Momentum(14) 102.2591</text>
<path d="M707,496h1v1h-1zM706,497h1v1h-1zM691,498h1v1h-1zM705,498h1v1h-1zM691,499h3v1h-3zM703,499h2v1h-2zM483,500h1v1h-1zM691,500h1v1h-1zM694,500h1v1h-1zM702,500h1v1h-1zM481,501h2v1h-2zM484,501h1v1h-1zM690,501h1v1h-1zM695,501h2v1h-2zM701,501h1v1h-1zM480,502h1v1h-1zM485,502h1v1h-1zM523,502h1v1h-1zM690,502h1v1h-1zM697,502h2v1h-2zM700,502h1v1h-1zM479,503h1v1h-1zM486,503h1v1h-1zM523,503h1v1h-1zM690,503h1v1h-1zM699,503h1v1h-1zM477,504h2v1h-2zM487,504h2v1h-2zM522,504h1v1h-1zM524,504h1v1h-1zM690,504h1v1h-1zM476,505h1v1h-1zM489,505h1v1h-1zM522,505h1v1h-1zM524,505h1v1h-1zM690,505h1v1h-1zM475,506h1v1h-1zM490,506h1v1h-1zM521,506h1v1h-1zM524,506h1v1h-1zM689,506h1v1h-1zM474,507h1v1h-1zM491,507h1v1h-1zM521,507h1v1h-1zM525,507h1v1h-1zM689,507h1v1h-1zM473,508h1v1h-1zM492,508h1v1h-1zM520,508h1v1h-1zM525,508h1v1h-1zM689,508h1v1h-1zM473,509h1v1h-1zM493,509h1v1h-1zM520,509h1v1h-1zM525,509h1v1h-1zM689,509h1v1h-1zM472,510h1v1h-1zM493,510h1v1h-1zM520,510h1v1h-1zM525,510h1v1h-1zM688,510h1v1h-1zM471,511h1v1h-1zM494,511h1v1h-1zM519,511h1v1h-1zM526,511h1v1h-1zM688,511h1v1h-1zM470,512h1v1h-1zM495,512h1v1h-1zM519,512h1v1h-1zM526,512h1v1h-1zM688,512h1v1h-1zM469,513h1v1h-1zM496,513h1v1h-1zM518,513h1v1h-1zM526,513h1v1h-1zM688,513h1v1h-1zM469,514h1v1h-1zM497,514h1v1h-1zM518,514h1v1h-1zM527,514h1v1h-1zM688,514h1v1h-1zM468,515h1v1h-1zM497,515h1v1h-1zM518,515h1v1h-1zM527,515h1v1h-1zM570,515h2v1h-2zM687,515h1v1h-1zM463,516h5v1h-5zM498,516h1v1h-1zM517,516h1v1h-1zM527,516h1v1h-1zM568,516h2v1h-2zM572,516h1v1h-1zM587,516h2v1h-2zM687,516h1v1h-1zM459,517h4v1h-4zM499,517h1v1h-1zM517,517h1v1h-1zM528,517h1v1h-1zM566,517h2v1h-2zM573,517h1v1h-1zM586,517h1v1h-1zM589,517h2v1h-2zM687,517h1v1h-1zM459,518h1v1h-1zM500,518h1v1h-1zM516,518h1v1h-1zM528,518h1v1h-1zM564,518h2v1h-2zM573,518h1v1h-1zM585,518h1v1h-1zM591,518h3v1h-3zM651,518h2v1h-2zM687,518h1v1h-1zM458,519h1v1h-1zM501,519h2v1h-2zM516,519h1v1h-1zM528,519h1v1h-1zM563,519h1v1h-1zM574,519h1v1h-1zM584,519h1v1h-1zM594,519h2v1h-2zM650,519h1v1h-1zM653,519h2v1h-2zM687,519h1v1h-1zM458,520h1v1h-1zM503,520h1v1h-1zM515,520h1v1h-1zM529,520h1v1h-1zM562,520h1v1h-1zM575,520h1v1h-1zM583,520h1v1h-1zM596,520h1v1h-1zM649,520h1v1h-1zM655,520h3v1h-3zM686,520h1v1h-1zM457,521h1v1h-1zM504,521h1v1h-1zM513,521h3v1h-3zM529,521h1v1h-1zM562,521h1v1h-1zM576,521h1v1h-1zM583,521h1v1h-1zM597,521h1v1h-1zM648,521h1v1h-1zM658,521h2v1h-2zM686,521h1v1h-1zM11,522h1v1h-1zM457,522h1v1h-1zM505,522h2v1h-2zM509,522h4v1h-4zM529,522h1v1h-1zM561,522h1v1h-1zM577,522h1v1h-1zM582,522h1v1h-1zM597,522h1v1h-1zM647,522h1v1h-1zM660,522h1v1h-1zM686,522h1v1h-1zM9,523h3v1h-3zM425,523h3v1h-3zM456,523h1v1h-1zM507,523h2v1h-2zM529,523h1v1h-1zM547,523h1v1h-1zM561,523h1v1h-1zM577,523h1v1h-1zM581,523h1v1h-1zM598,523h1v1h-1zM647,523h1v1h-1zM660,523h1v1h-1zM686,523h1v1h-1zM8,524h1v1h-1zM12,524h1v1h-1zM421,524h4v1h-4zM428,524h1v1h-1zM456,524h1v1h-1zM530,524h1v1h-1zM547,524h2v1h-2zM560,524h1v1h-1zM578,524h1v1h-1zM580,524h1v1h-1zM599,524h1v1h-1zM646,524h1v1h-1zM661,524h1v1h-1zM686,524h1v1h-1zM7,525h1v1h-1zM12,525h1v1h-1zM419,525h2v1h-2zM428,525h1v1h-1zM455,525h1v1h-1zM530,525h1v1h-1zM546,525h1v1h-1zM549,525h1v1h-1zM559,525h1v1h-1zM579,525h1v1h-1zM600,525h1v1h-1zM645,525h1v1h-1zM661,525h1v1h-1zM685,525h1v1h-1zM5,526h2v1h-2zM13,526h1v1h-1zM419,526h1v1h-1zM429,526h1v1h-1zM455,526h1v1h-1zM530,526h1v1h-1zM546,526h1v1h-1zM550,526h1v1h-1zM559,526h1v1h-1zM601,526h1v1h-1zM635,526h4v1h-4zM644,526h1v1h-1zM662,526h1v1h-1zM685,526h1v1h-1zM4,527h1v1h-1zM13,527h1v1h-1zM418,527h1v1h-1zM429,527h1v1h-1zM455,527h1v1h-1zM531,527h1v1h-1zM545,527h1v1h-1zM551,527h1v1h-1zM558,527h1v1h-1zM601,527h1v1h-1zM619,527h1v1h-1zM634,527h1v1h-1zM639,527h5v1h-5zM663,527h1v1h-1zM685,527h1v1h-1zM3,528h1v1h-1zM14,528h1v1h-1zM418,528h1v1h-1zM430,528h1v1h-1zM454,528h1v1h-1zM531,528h1v1h-1zM545,528h1v1h-1zM551,528h1v1h-1zM557,528h1v1h-1zM602,528h1v1h-1zM618,528h1v1h-1zM620,528h1v1h-1zM633,528h1v1h-1zM663,528h1v1h-1zM685,528h1v1h-1zM14,529h1v1h-1zM418,529h1v1h-1zM431,529h1v1h-1zM443,529h1v1h-1zM454,529h1v1h-1zM532,529h1v1h-1zM544,529h1v1h-1zM552,529h1v1h-1zM557,529h1v1h-1zM603,529h1v1h-1zM617,529h1v1h-1zM621,529h2v1h-2zM631,529h2v1h-2zM664,529h1v1h-1zM684,529h1v1h-1zM15,530h1v1h-1zM418,530h1v1h-1zM431,530h1v1h-1zM442,530h1v1h-1zM444,530h1v1h-1zM453,530h1v1h-1zM532,530h1v1h-1zM544,530h1v1h-1zM553,530h1v1h-1zM556,530h1v1h-1zM604,530h1v1h-1zM617,530h1v1h-1zM623,530h1v1h-1zM630,530h1v1h-1zM665,530h1v1h-1zM684,530h1v1h-1zM15,531h1v1h-1zM417,531h1v1h-1zM432,531h1v1h-1zM441,531h1v1h-1zM445,531h2v1h-2zM453,531h1v1h-1zM533,531h1v1h-1zM543,531h1v1h-1zM554,531h1v1h-1zM556,531h1v1h-1zM605,531h1v1h-1zM616,531h1v1h-1zM624,531h1v1h-1zM629,531h1v1h-1zM665,531h1v1h-1zM684,531h1v1h-1zM15,532h1v1h-1zM417,532h1v1h-1zM433,532h1v1h-1zM439,532h2v1h-2zM447,532h1v1h-1zM452,532h1v1h-1zM533,532h1v1h-1zM543,532h1v1h-1zM555,532h1v1h-1zM606,532h1v1h-1zM615,532h1v1h-1zM625,532h2v1h-2zM628,532h1v1h-1zM666,532h1v1h-1zM684,532h1v1h-1zM16,533h1v1h-1zM323,533h1v1h-1zM417,533h1v1h-1zM433,533h1v1h-1zM438,533h1v1h-1zM448,533h1v1h-1zM452,533h1v1h-1zM534,533h1v1h-1zM543,533h1v1h-1zM607,533h1v1h-1zM614,533h1v1h-1zM627,533h1v1h-1zM666,533h1v1h-1zM684,533h1v1h-1zM16,534h1v1h-1zM219,534h1v1h-1zM322,534h1v1h-1zM324,534h1v1h-1zM416,534h1v1h-1zM434,534h1v1h-1zM437,534h1v1h-1zM449,534h3v1h-3zM535,534h1v1h-1zM542,534h1v1h-1zM608,534h1v1h-1zM613,534h1v1h-1zM667,534h1v1h-1zM683,534h1v1h-1zM17,535h1v1h-1zM154,535h2v1h-2zM219,535h1v1h-1zM321,535h1v1h-1zM325,535h1v1h-1zM416,535h1v1h-1zM434,535h1v1h-1zM436,535h1v1h-1zM451,535h1v1h-1zM535,535h1v1h-1zM542,535h1v1h-1zM609,535h1v1h-1zM613,535h1v1h-1zM668,535h2v1h-2zM683,535h1v1h-1zM17,536h1v1h-1zM152,536h2v1h-2zM156,536h1v1h-1zM218,536h1v1h-1zM220,536h1v1h-1zM319,536h2v1h-2zM326,536h1v1h-1zM339,536h1v1h-1zM403,536h1v1h-1zM416,536h1v1h-1zM435,536h1v1h-1zM536,536h1v1h-1zM541,536h1v1h-1zM610,536h1v1h-1zM612,536h1v1h-1zM670,536h2v1h-2zM681,536h3v1h-3zM18,537h1v1h-1zM150,537h2v1h-2zM156,537h1v1h-1zM218,537h1v1h-1zM220,537h1v1h-1zM318,537h1v1h-1zM327,537h1v1h-1zM337,537h3v1h-3zM402,537h1v1h-1zM404,537h1v1h-1zM415,537h1v1h-1zM537,537h1v1h-1zM541,537h1v1h-1zM611,537h1v1h-1zM672,537h2v1h-2zM677,537h4v1h-4zM18,538h1v1h-1zM148,538h2v1h-2zM157,538h1v1h-1zM217,538h1v1h-1zM221,538h1v1h-1zM317,538h1v1h-1zM327,538h1v1h-1zM336,538h1v1h-1zM340,538h1v1h-1zM401,538h1v1h-1zM404,538h1v1h-1zM415,538h1v1h-1zM537,538h1v1h-1zM540,538h1v1h-1zM674,538h3v1h-3zM19,539h1v1h-1zM147,539h1v1h-1zM158,539h1v1h-1zM217,539h1v1h-1zM221,539h1v1h-1zM316,539h1v1h-1zM328,539h1v1h-1zM335,539h1v1h-1zM340,539h1v1h-1zM399,539h2v1h-2zM405,539h1v1h-1zM415,539h1v1h-1zM538,539h1v1h-1zM540,539h1v1h-1zM19,540h2v1h-2zM145,540h2v1h-2zM158,540h1v1h-1zM216,540h1v1h-1zM222,540h1v1h-1zM314,540h2v1h-2zM329,540h1v1h-1zM333,540h2v1h-2zM341,540h1v1h-1zM398,540h1v1h-1zM405,540h1v1h-1zM415,540h1v1h-1zM538,540h2v1h-2zM21,541h2v1h-2zM144,541h1v1h-1zM159,541h1v1h-1zM187,541h1v1h-1zM216,541h1v1h-1zM222,541h1v1h-1zM275,541h1v1h-1zM311,541h3v1h-3zM330,541h1v1h-1zM332,541h1v1h-1zM341,541h1v1h-1zM397,541h1v1h-1zM406,541h1v1h-1zM414,541h1v1h-1zM539,541h1v1h-1zM23,542h3v1h-3zM143,542h1v1h-1zM160,542h1v1h-1zM185,542h2v1h-2zM188,542h1v1h-1zM215,542h1v1h-1zM223,542h1v1h-1zM274,542h1v1h-1zM276,542h1v1h-1zM309,542h2v1h-2zM331,542h1v1h-1zM342,542h1v1h-1zM396,542h1v1h-1zM406,542h1v1h-1zM414,542h1v1h-1zM26,543h2v1h-2zM141,543h2v1h-2zM160,543h1v1h-1zM183,543h2v1h-2zM189,543h2v1h-2zM215,543h1v1h-1zM223,543h1v1h-1zM274,543h1v1h-1zM276,543h1v1h-1zM307,543h2v1h-2zM342,543h1v1h-1zM395,543h1v1h-1zM407,543h1v1h-1zM414,543h1v1h-1zM28,544h1v1h-1zM58,544h2v1h-2zM140,544h1v1h-1zM161,544h1v1h-1zM182,544h1v1h-1zM191,544h1v1h-1zM202,544h2v1h-2zM215,544h1v1h-1zM224,544h1v1h-1zM273,544h1v1h-1zM277,544h1v1h-1zM306,544h1v1h-1zM342,544h1v1h-1zM394,544h1v1h-1zM407,544h1v1h-1zM413,544h1v1h-1zM29,545h2v1h-2zM56,545h2v1h-2zM60,545h1v1h-1zM131,545h9v1h-9zM162,545h1v1h-1zM180,545h2v1h-2zM192,545h1v1h-1zM199,545h3v1h-3zM204,545h1v1h-1zM214,545h1v1h-1zM224,545h1v1h-1zM273,545h1v1h-1zM277,545h1v1h-1zM305,545h1v1h-1zM343,545h1v1h-1zM394,545h1v1h-1zM408,545h1v1h-1zM413,545h1v1h-1zM31,546h1v1h-1zM54,546h2v1h-2zM61,546h1v1h-1zM131,546h1v1h-1zM162,546h1v1h-1zM167,546h13v1h-13zM193,546h2v1h-2zM197,546h2v1h-2zM205,546h1v1h-1zM214,546h1v1h-1zM225,546h1v1h-1zM272,546h1v1h-1zM278,546h1v1h-1zM303,546h2v1h-2zM343,546h1v1h-1zM393,546h1v1h-1zM408,546h1v1h-1zM413,546h1v1h-1zM32,547h1v1h-1zM52,547h2v1h-2zM62,547h1v1h-1zM130,547h1v1h-1zM163,547h4v1h-4zM195,547h2v1h-2zM206,547h1v1h-1zM213,547h1v1h-1zM225,547h1v1h-1zM272,547h1v1h-1zM279,547h1v1h-1zM302,547h1v1h-1zM344,547h1v1h-1zM393,547h1v1h-1zM409,547h1v1h-1zM412,547h1v1h-1zM33,548h2v1h-2zM50,548h2v1h-2zM63,548h1v1h-1zM130,548h1v1h-1zM207,548h1v1h-1zM213,548h1v1h-1zM226,548h1v1h-1zM243,548h1v1h-1zM271,548h1v1h-1zM279,548h1v1h-1zM301,548h1v1h-1zM344,548h1v1h-1zM392,548h1v1h-1zM409,548h1v1h-1zM412,548h1v1h-1zM35,549h2v1h-2zM48,549h2v1h-2zM63,549h1v1h-1zM129,549h1v1h-1zM208,549h1v1h-1zM212,549h1v1h-1zM226,549h1v1h-1zM242,549h1v1h-1zM244,549h1v1h-1zM271,549h1v1h-1zM280,549h1v1h-1zM300,549h1v1h-1zM344,549h1v1h-1zM391,549h1v1h-1zM410,549h1v1h-1zM412,549h1v1h-1zM37,550h2v1h-2zM46,550h2v1h-2zM64,550h1v1h-1zM129,550h1v1h-1zM209,550h1v1h-1zM212,550h1v1h-1zM227,550h1v1h-1zM241,550h1v1h-1zM245,550h1v1h-1zM270,550h1v1h-1zM281,550h1v1h-1zM299,550h1v1h-1zM345,550h1v1h-1zM391,550h1v1h-1zM410,550h1v1h-1zM412,550h1v1h-1zM39,551h3v1h-3zM44,551h2v1h-2zM65,551h1v1h-1zM129,551h1v1h-1zM210,551h2v1h-2zM227,551h1v1h-1zM239,551h2v1h-2zM246,551h1v1h-1zM270,551h1v1h-1zM281,551h1v1h-1zM298,551h1v1h-1zM345,551h1v1h-1zM390,551h1v1h-1zM411,551h1v1h-1zM42,552h2v1h-2zM66,552h1v1h-1zM128,552h1v1h-1zM211,552h1v1h-1zM228,552h2v1h-2zM238,552h1v1h-1zM247,552h1v1h-1zM269,552h1v1h-1zM282,552h1v1h-1zM297,552h1v1h-1zM346,552h1v1h-1zM389,552h1v1h-1zM411,552h1v1h-1zM67,553h1v1h-1zM128,553h1v1h-1zM230,553h2v1h-2zM237,553h1v1h-1zM248,553h1v1h-1zM269,553h1v1h-1zM282,553h1v1h-1zM295,553h2v1h-2zM346,553h1v1h-1zM389,553h1v1h-1zM68,554h1v1h-1zM128,554h1v1h-1zM232,554h2v1h-2zM236,554h1v1h-1zM249,554h1v1h-1zM268,554h1v1h-1zM283,554h2v1h-2zM294,554h1v1h-1zM347,554h1v1h-1zM388,554h1v1h-1zM69,555h1v1h-1zM127,555h1v1h-1zM234,555h2v1h-2zM250,555h1v1h-1zM268,555h1v1h-1zM285,555h2v1h-2zM293,555h1v1h-1zM347,555h1v1h-1zM388,555h1v1h-1zM70,556h1v1h-1zM127,556h1v1h-1zM251,556h4v1h-4zM263,556h5v1h-5zM287,556h3v1h-3zM292,556h1v1h-1zM348,556h1v1h-1zM386,556h2v1h-2zM71,557h2v1h-2zM126,557h1v1h-1zM255,557h8v1h-8zM290,557h2v1h-2zM349,557h2v1h-2zM384,557h2v1h-2zM73,558h1v1h-1zM126,558h1v1h-1zM351,558h1v1h-1zM382,558h2v1h-2zM74,559h1v1h-1zM126,559h1v1h-1zM352,559h1v1h-1zM380,559h2v1h-2zM75,560h1v1h-1zM125,560h1v1h-1zM353,560h2v1h-2zM379,560h1v1h-1zM76,561h1v1h-1zM125,561h1v1h-1zM355,561h1v1h-1zM378,561h1v1h-1zM77,562h2v1h-2zM125,562h1v1h-1zM356,562h1v1h-1zM378,562h1v1h-1zM79,563h1v1h-1zM124,563h1v1h-1zM357,563h1v1h-1zM377,563h1v1h-1zM80,564h1v1h-1zM124,564h1v1h-1zM357,564h1v1h-1zM377,564h1v1h-1zM81,565h2v1h-2zM123,565h1v1h-1zM358,565h1v1h-1zM376,565h1v1h-1zM83,566h1v1h-1zM119,566h5v1h-5zM359,566h1v1h-1zM375,566h1v1h-1zM84,567h2v1h-2zM115,567h4v1h-4zM360,567h1v1h-1zM375,567h1v1h-1zM86,568h1v1h-1zM98,568h2v1h-2zM114,568h1v1h-1zM361,568h1v1h-1zM374,568h1v1h-1zM87,569h2v1h-2zM95,569h3v1h-3zM100,569h1v1h-1zM113,569h1v1h-1zM361,569h1v1h-1zM373,569h1v1h-1zM89,570h2v1h-2zM93,570h2v1h-2zM101,570h1v1h-1zM112,570h1v1h-1zM362,570h1v1h-1zM373,570h1v1h-1zM91,571h2v1h-2zM102,571h1v1h-1zM111,571h1v1h-1zM363,571h2v1h-2zM372,571h1v1h-1zM103,572h2v1h-2zM110,572h1v1h-1zM365,572h4v1h-4zM372,572h1v1h-1zM105,573h1v1h-1zM109,573h1v1h-1zM369,573h3v1h-3zM106,574h1v1h-1zM108,574h1v1h-1zM107,575h1v1h-1z" fill="#dc143c"/>
</g>
<g shape-rendering="crispEdges">
<path class="b" d="M2,2.5H758M2,397.5H758M2,399.5H758M2,488.5H758M2,490.5H758M2,579.5H758M757.5,2V398M757.5,399V489M757.5,490V580M2.5,2V398M2.5,399V489M2.5,490V580"/>
<path class="b" d="M758,31.5h2M758,64.5h2M758,97.5h2M758,130.5h2M758,163.5h2M758,196.5h2M758,229.5h2M758,262.5h2M758,295.5h2M758,328.5h2M758,361.5h2M758,394.5h2M758,401.5h1M758,419.5h1M758,487.5h1M758,492.5h1M758,578.5h1M3.5,580v3M67.5,580v3M131.5,580v3M195.5,580v3M259.5,580v3M323.5,580v3M387.5,580v3M451.5,580v3M515.5,580v3M579.5,580v3M643.5,580v3M707.5,580v3"/>
<path d="M35,398h1v1h-1zM35,489h1v1h-1zM67,398h1v1h-1zM67,489h1v1h-1zM99,398h1v1h-1zM99,489h1v1h-1zM131,398h1v1h-1zM131,489h1v1h-1zM163,398h1v1h-1zM163,489h1v1h-1zM195,398h1v1h-1zM195,489h1v1h-1zM227,398h1v1h-1zM227,489h1v1h-1zM259,398h1v1h-1zM259,489h1v1h-1zM291,398h1v1h-1zM291,489h1v1h-1zM323,398h1v1h-1zM323,489h1v1h-1zM355,398h1v1h-1zM355,489h1v1h-1zM387,398h1v1h-1zM387,489h1v1h-1zM419,398h1v1h-1zM419,489h1v1h-1zM451,398h1v1h-1zM451,489h1v1h-1zM483,398h1v1h-1zM483,489h1v1h-1zM515,398h1v1h-1zM515,489h1v1h-1zM547,398h1v1h-1zM547,489h1v1h-1zM579,398h1v1h-1zM579,489h1v1h-1zM611,398h1v1h-1zM611,489h1v1h-1zM643,398h1v1h-1zM643,489h1v1h-1zM675,398h1v1h-1zM675,489h1v1h-1zM707,398h1v1h-1zM707,489h1v1h-1zM739,398h1v1h-1zM739,489h1v1h-1z" fill="#778899"/>
<rect x="759" y="216" width="41" height="11" fill="#fff"/>
<rect x="758" y="274" width="1" height="3" fill="#ff0000"/><rect x="758" y="336" width="1" height="3" fill="#ff0000"/>
<rect x="759" y="269" width="41" height="11" fill="#ff0000"/>
<rect x="759" y="331" width="41" height="11" fill="#ff0000"/>
</g>
<text x="763" y="35" textLength="33" lengthAdjust="spacingAndGlyphs">1305.40</text>
<text x="763" y="68" textLength="33" lengthAdjust="spacingAndGlyphs">1291.80</text>
<text x="763" y="101" textLength="33" lengthAdjust="spacingAndGlyphs">1278.60</text>
<text x="763" y="134" textLength="33" lengthAdjust="spacingAndGlyphs">1265.00</text>
<text x="763" y="167" textLength="33" lengthAdjust="spacingAndGlyphs">1251.40</text>
<text x="763" y="200" textLength="33" lengthAdjust="spacingAndGlyphs">1238.20</text>
<text x="763" y="233" textLength="33" lengthAdjust="spacingAndGlyphs">1224.60</text>
<text x="763" y="266" textLength="33" lengthAdjust="spacingAndGlyphs">1211.00</text>
<text x="763" y="299" textLength="33" lengthAdjust="spacingAndGlyphs">1197.80</text>
<text x="763" y="332" textLength="33" lengthAdjust="spacingAndGlyphs">1184.20</text>
<text x="763" y="365" textLength="33" lengthAdjust="spacingAndGlyphs">1170.60</text>
<text x="763" y="398" textLength="33" lengthAdjust="spacingAndGlyphs">1157.40</text>
<text class="k" x="763" y="225" textLength="33" lengthAdjust="spacingAndGlyphs">1228.05</text>
<text class="k" x="763" y="278" textLength="33" lengthAdjust="spacingAndGlyphs">1205.78</text>
<text class="k" x="763" y="340" textLength="33" lengthAdjust="spacingAndGlyphs">1180.32</text>
<text x="760.5" y="410" textLength="23" lengthAdjust="spacingAndGlyphs">4.662</text>
<text x="760.5" y="423" textLength="18" lengthAdjust="spacingAndGlyphs">0.00</text>
<text x="760.5" y="485" textLength="31" lengthAdjust="spacingAndGlyphs">-17.063</text>
<text x="760.5" y="501" textLength="38" lengthAdjust="spacingAndGlyphs">102.5807</text>
<text x="760.5" y="576" textLength="33" lengthAdjust="spacingAndGlyphs">95.5053</text>
<text x="2.3" y="592" textLength="50" lengthAdjust="spacingAndGlyphs">13 Jun 2018</text>
<text x="66.3" y="592" textLength="50" lengthAdjust="spacingAndGlyphs">25 Jun 2018</text>
<text x="130.3" y="592" textLength="42" lengthAdjust="spacingAndGlyphs">5 Jul 2018</text>
<text x="194.3" y="592" textLength="47" lengthAdjust="spacingAndGlyphs">17 Jul 2018</text>
<text x="258.3" y="592" textLength="47" lengthAdjust="spacingAndGlyphs">27 Jul 2018</text>
<text x="322.3" y="592" textLength="47" lengthAdjust="spacingAndGlyphs">8 Aug 2018</text>
<text x="386.3" y="592" textLength="52" lengthAdjust="spacingAndGlyphs">20 Aug 2018</text>
<text x="450.3" y="592" textLength="52" lengthAdjust="spacingAndGlyphs">30 Aug 2018</text>
<text x="514.3" y="592" textLength="52" lengthAdjust="spacingAndGlyphs">11 Sep 2018</text>
<text x="578.3" y="592" textLength="52" lengthAdjust="spacingAndGlyphs">21 Sep 2018</text>
<text x="642.3" y="592" textLength="46" lengthAdjust="spacingAndGlyphs">3 Oct 2018</text>
<text x="706.3" y="592" textLength="51" lengthAdjust="spacingAndGlyphs">15 Oct 2018</text>
</svg></body></html>
